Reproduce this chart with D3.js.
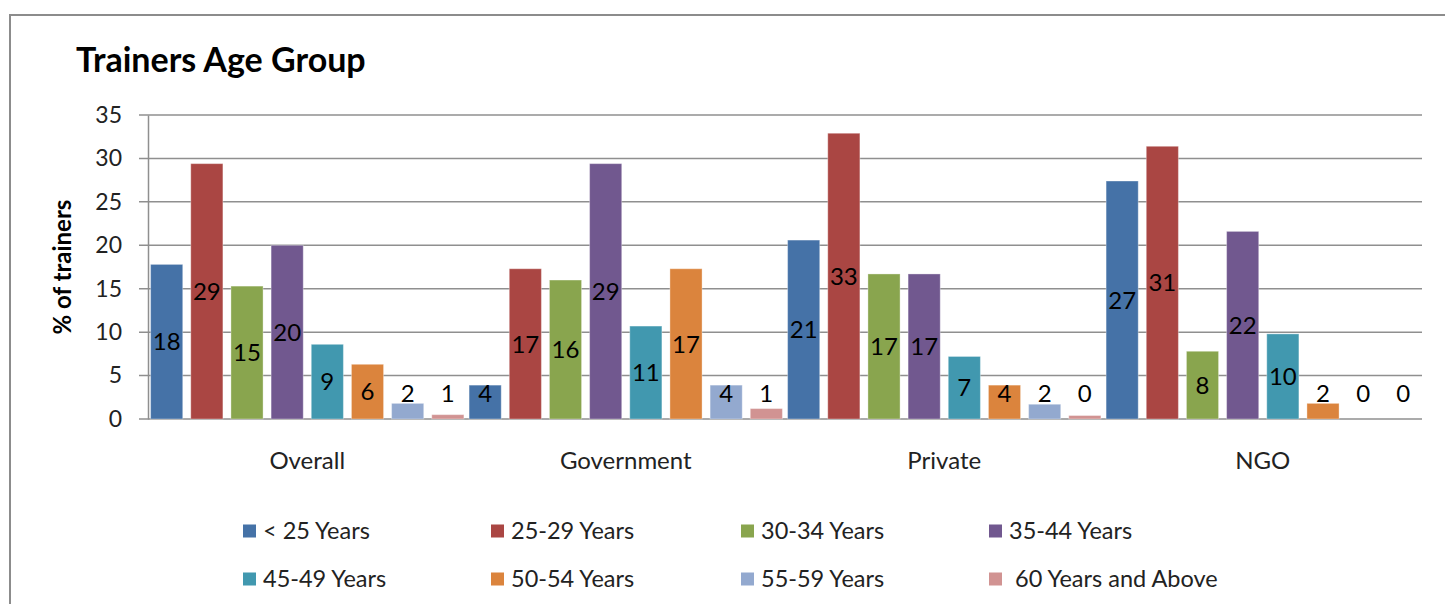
<!DOCTYPE html>
<html>
<head>
<meta charset="utf-8">
<script src="https://cdn.jsdelivr.net/npm/d3@7"></script>
<style>
  html, body { margin: 0; padding: 0; background: #fff; }
  svg { display: block; font-family: Lato, "Open Sans", sans-serif; }
</style>
</head>
<body>
<svg id="chart" width="1445" height="604"></svg>
<script>
// ---- data ----
const categories = ["Overall", "Government", "Private", "NGO"];
const seriesNames = ["< 25 Years", "25-29 Years", "30-34 Years", "35-44 Years",
                     "45-49 Years", "50-54 Years", "55-59 Years", " 60 Years and Above"];
const under25   = [17.8, 3.9, 20.6, 27.4];
const age25_29  = [29.4, 17.3, 32.9, 31.4];
const age30_34  = [15.3, 16.0, 16.7, 7.8];
const age35_44  = [20.0, 29.4, 16.7, 21.6];
const age45_49  = [8.6, 10.7, 7.2, 9.8];
const age50_54  = [6.3, 17.3, 3.9, 1.8];
const age55_59  = [1.8, 3.9, 1.7, 0];
const age60plus = [0.5, 1.2, 0.4, 0];
const yTicks = [0, 5, 10, 15, 20, 25, 30, 35];
const colors = ["#4572A7", "#AA4643", "#89A54E", "#71588F", "#4198AF", "#DB843D", "#93A9CF", "#D19392"];

const seriesValues = [under25, age25_29, age30_34, age35_44, age45_49, age50_54, age55_59, age60plus];

(function () {
const svg = d3.select("#chart");

// outer border
svg.append("rect").attr("x", 10).attr("y", 15).attr("width", 1500).attr("height", 700)
  .attr("fill", "none").attr("stroke", "#8c8c8c").attr("stroke-width", 2);

// title
svg.append("text").attr("x", 76).attr("y", 72)
  .attr("font-size", 34).attr("font-weight", "bold").attr("fill", "#000")
  .text("Trainers Age Group");

const pLeft = 148, pRight = 1422, pTop = 115, pBottom = 419;
const x0 = d3.scaleBand().domain(categories).range([pLeft, pRight]).padding(0);
const x1 = d3.scaleBand().domain(d3.range(seriesNames.length))
  .range([2.6, x0.bandwidth() - 2.6]).paddingInner(0.2).paddingOuter(0);
const y = d3.scaleLinear().domain([0, 35]).range([pBottom, pTop]);

// gridlines
svg.append("g").selectAll("line").data(yTicks).join("line")
  .attr("x1", pLeft - 9).attr("x2", pRight)
  .attr("y1", d => y(d)).attr("y2", d => y(d))
  .attr("stroke", "#8f8f8f").attr("stroke-width", 1.5);

// y axis
const yAxis = d3.axisLeft(y).tickValues(yTicks).tickSize(0).tickPadding(26);
const gy = svg.append("g").attr("transform", `translate(${pLeft},0)`).call(yAxis);
gy.select(".domain").attr("stroke", "#8f8f8f").attr("stroke-width", 1.5);
gy.selectAll("text").attr("font-size", 23).attr("fill", "#222")
  .attr("font-family", "Lato, 'Open Sans', sans-serif");

// y axis title
svg.append("text")
  .attr("transform", "translate(71,267) rotate(-90)")
  .attr("text-anchor", "middle")
  .attr("font-size", 24).attr("font-weight", "bold").attr("fill", "#000")
  .text("% of trainers");

// bars
const groups = svg.append("g").selectAll("g").data(categories).join("g")
  .attr("transform", d => `translate(${x0(d)},0)`);

groups.each(function(cat, ci) {
  const g = d3.select(this);
  const vals = seriesValues.map((arr, si) => ({ si, v: arr[ci] }));
  g.selectAll("rect").data(vals).join("rect")
    .attr("x", d => x1(d.si)).attr("width", x1.bandwidth())
    .attr("y", d => y(d.v)).attr("height", d => y(0) - y(d.v))
    .attr("fill", d => colors[d.si])
    .attr("stroke", "rgba(255,255,255,0.35)").attr("stroke-width", 1);
  g.selectAll("text.lbl").data(vals).join("text").attr("class", "lbl")
    .attr("x", d => x1(d.si) + x1.bandwidth() / 2)
    .attr("y", d => Math.min((y(d.v) + y(0)) / 2, y(0) - 26))
    .attr("dy", "0.36em")
    .attr("text-anchor", "middle")
    .attr("font-size", 24).attr("fill", "#000")
    .text(d => Math.round(d.v));
});

// category labels
svg.append("g").selectAll("text").data(categories).join("text")
  .attr("x", d => x0(d) + x0.bandwidth() / 2).attr("y", 469)
  .attr("text-anchor", "middle").attr("font-size", 24).attr("fill", "#222")
  .text(d => d);

// legend
const legX = [243, 491, 741, 989];
const legY = [531, 579];
const leg = svg.append("g").selectAll("g").data(seriesNames).join("g")
  .attr("transform", (d, i) => `translate(${legX[i % 4]},${legY[Math.floor(i / 4)]})`);
leg.append("rect").attr("x", 0).attr("y", -6.5).attr("width", 13).attr("height", 13)
  .attr("fill", (d, i) => colors[i]);
leg.append("text").attr("x", 20).attr("y", 0).attr("dy", "0.36em")
  .attr("font-size", 23.5).attr("fill", "#222")
  .attr("xml:space", "preserve").style("white-space", "pre")
  .text(d => d);
})();
</script>
</body>
</html>
